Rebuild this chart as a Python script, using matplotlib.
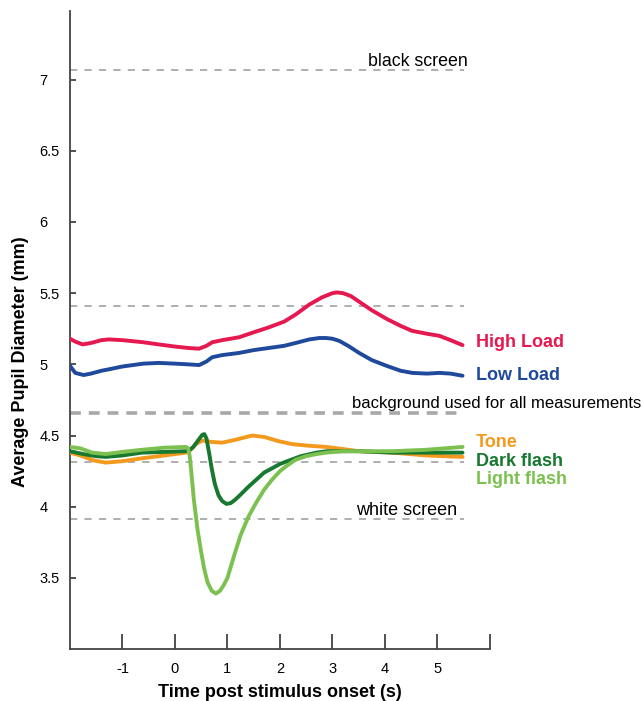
import numpy as np
import matplotlib
matplotlib.use("Agg")
import matplotlib.pyplot as plt

plt.rcParams["font.family"] = ["Liberation Sans", "DejaVu Sans"]

# time axis (s) and average pupil diameter (mm) for each condition
high_t = [-2.0, -1.9, -1.76, -1.6, -1.4, -1.26, -1.0, -0.6, -0.31, 0.0, 0.25, 0.46, 0.6, 0.71,
          0.9, 1.22, 1.5, 1.79, 2.08, 2.3, 2.56, 2.8, 3.0, 3.09, 3.2, 3.35, 3.51, 3.75, 4.03,
          4.3, 4.52, 4.8, 5.04, 5.25, 5.48]
high_y = [5.18, 5.16, 5.14, 5.15, 5.17, 5.175, 5.17, 5.155, 5.14, 5.125, 5.115, 5.11, 5.13, 5.155,
          5.17, 5.19, 5.225, 5.26, 5.30, 5.35, 5.42, 5.47, 5.50, 5.505, 5.50, 5.48, 5.44, 5.38, 5.32,
          5.27, 5.235, 5.215, 5.20, 5.17, 5.135]

low_t = [-2.0, -1.9, -1.74, -1.6, -1.4, -1.26, -1.0, -0.6, -0.31, 0.0, 0.25, 0.46, 0.6, 0.71,
         0.9, 1.22, 1.5, 1.79, 2.08, 2.3, 2.56, 2.75, 2.88, 3.0, 3.13, 3.3, 3.51, 3.75, 4.03,
         4.3, 4.52, 4.8, 5.04, 5.25, 5.48]
low_y = [4.99, 4.94, 4.925, 4.935, 4.955, 4.965, 4.985, 5.005, 5.01, 5.005, 5.0, 4.995, 5.02, 5.05,
         5.065, 5.08, 5.10, 5.115, 5.13, 5.15, 5.175, 5.185, 5.185, 5.18, 5.165, 5.13, 5.08, 5.03, 4.99,
         4.955, 4.94, 4.935, 4.94, 4.935, 4.92]

tone_t = [-2.0, -1.8, -1.55, -1.32, -1.0, -0.63, -0.2, 0.21, 0.3, 0.4, 0.52, 0.7, 0.9, 1.15,
          1.47, 1.7, 1.98, 2.23, 2.5, 2.88, 3.2, 3.51, 4.14, 4.79, 5.48]
tone_y = [4.38, 4.36, 4.325, 4.31, 4.32, 4.34, 4.36, 4.38, 4.40, 4.44, 4.465, 4.455, 4.45, 4.47,
          4.50, 4.49, 4.46, 4.44, 4.43, 4.42, 4.405, 4.39, 4.38, 4.36, 4.35]

dark_t = [-2.0, -1.75, -1.5, -1.32, -1.0, -0.63, -0.2, 0.21, 0.27, 0.35, 0.45, 0.52, 0.56, 0.6,
          0.65, 0.7, 0.76, 0.83, 0.9, 0.98, 1.06, 1.15, 1.25, 1.4, 1.55, 1.7, 1.85, 2.0, 2.14,
          2.4, 2.7, 2.9, 3.51, 4.14, 4.79, 5.48]
dark_y = [4.39, 4.37, 4.355, 4.35, 4.36, 4.38, 4.385, 4.39, 4.395, 4.42, 4.47, 4.505, 4.51, 4.48,
          4.38, 4.27, 4.16, 4.08, 4.04, 4.02, 4.025, 4.05, 4.085, 4.14, 4.19, 4.24, 4.27, 4.30, 4.32,
          4.355, 4.38, 4.39, 4.39, 4.38, 4.38, 4.38]

light_t = [-2.0, -1.8, -1.58, -1.32, -1.0, -0.63, -0.2, 0.21, 0.25, 0.28, 0.31, 0.36, 0.43, 0.5,
           0.56, 0.62, 0.7, 0.78, 0.86, 0.93, 1.0, 1.13, 1.25, 1.4, 1.55, 1.7, 1.85, 2.0, 2.14,
           2.3, 2.5, 2.7, 2.88, 3.2, 3.51, 4.14, 4.79, 5.48]
light_y = [4.42, 4.41, 4.38, 4.37, 4.385, 4.40, 4.415, 4.42, 4.41, 4.36, 4.25, 4.05, 3.84, 3.68,
           3.56, 3.47, 3.41, 3.39, 3.41, 3.45, 3.50, 3.66, 3.80, 3.93, 4.03, 4.12, 4.19, 4.25, 4.29,
           4.33, 4.355, 4.37, 4.38, 4.39, 4.39, 4.39, 4.40, 4.42]

# reference levels (mm)
ref_levels = [7.065, 5.41, 4.655, 4.315, 3.915]
ref_widths = [1.3, 1.3, 2.6, 1.3, 1.3]

series = [
    ("High Load", high_t, high_y, "#e5194f", 5.15),
    ("Low Load", low_t, low_y, "#1f4a9c", 4.92),
    ("Tone", tone_t, tone_y, "#f39a1e", 4.45),
    ("Dark flash", dark_t, dark_y, "#17782f", 4.32),
    ("Light flash", light_t, light_y, "#7cc14f", 4.19),
]

fig = plt.figure(figsize=(6.42, 7.01), dpi=100)
ax = fig.add_axes([0.109, 0.074, 0.654, 0.91])

for lvl, lw in zip(ref_levels, ref_widths):
    ax.plot([-2.0, 5.5], [lvl, lvl], color="#a8a8a8", lw=lw,
            dashes=(4, 4) if lw < 2 else (3, 2.2), zorder=1)

ax.text(5.57, 7.13, "black screen", ha="right", va="center", fontsize=12.8)
ax.text(3.38, 4.725, "background used for all measurements", ha="left", va="center",
        fontsize=12, clip_on=False)
ax.text(3.45, 3.975, "white screen", ha="left", va="center", fontsize=13)

for name, t, y, c, ly in series:
    ax.plot(t, y, color=c, lw=2.8, solid_capstyle="round", solid_joinstyle="round", zorder=3)
    ax.text(5.73, ly, name, color=c, fontsize=13, fontweight="bold",
            ha="left", va="center", clip_on=False)

ax.set_xlim(-2, 6)
ax.set_ylim(3.0, 7.48)
ax.set_xticks([-1, 0, 1, 2, 3, 4, 5, 6])
ax.set_xticklabels(["-1", "0", "1", "2", "3", "4", "5", ""])
ax.set_yticks([3.5, 4, 4.5, 5, 5.5, 6, 6.5, 7])
ax.set_yticklabels(["3.5", "4", "4.5", "5", "5.5", "6", "6.5", "7"])

ax.tick_params(axis="x", direction="in", length=11, width=1.2, pad=9,
               labelsize=10.5, colors="#333333", labelcolor="black")
ax.tick_params(axis="y", direction="in", length=4, width=1.2, pad=22,
               labelsize=10.5, colors="#333333", labelcolor="black")
# y tick labels sit flush left in a column
for lab in ax.get_yticklabels():
    lab.set_horizontalalignment("left")

for s in ["top", "right"]:
    ax.spines[s].set_visible(False)
for s in ["left", "bottom"]:
    ax.spines[s].set_color("#444444")
    ax.spines[s].set_linewidth(1.3)

ax.set_xlabel("Time post stimulus onset (s)", fontsize=13, fontweight="bold", labelpad=6)
ax.set_ylabel("Average Pupil Diameter (mm)", fontsize=13, fontweight="bold")
ax.yaxis.set_label_coords(-0.098, 0.451)

fig.savefig("out.png", dpi=100)
